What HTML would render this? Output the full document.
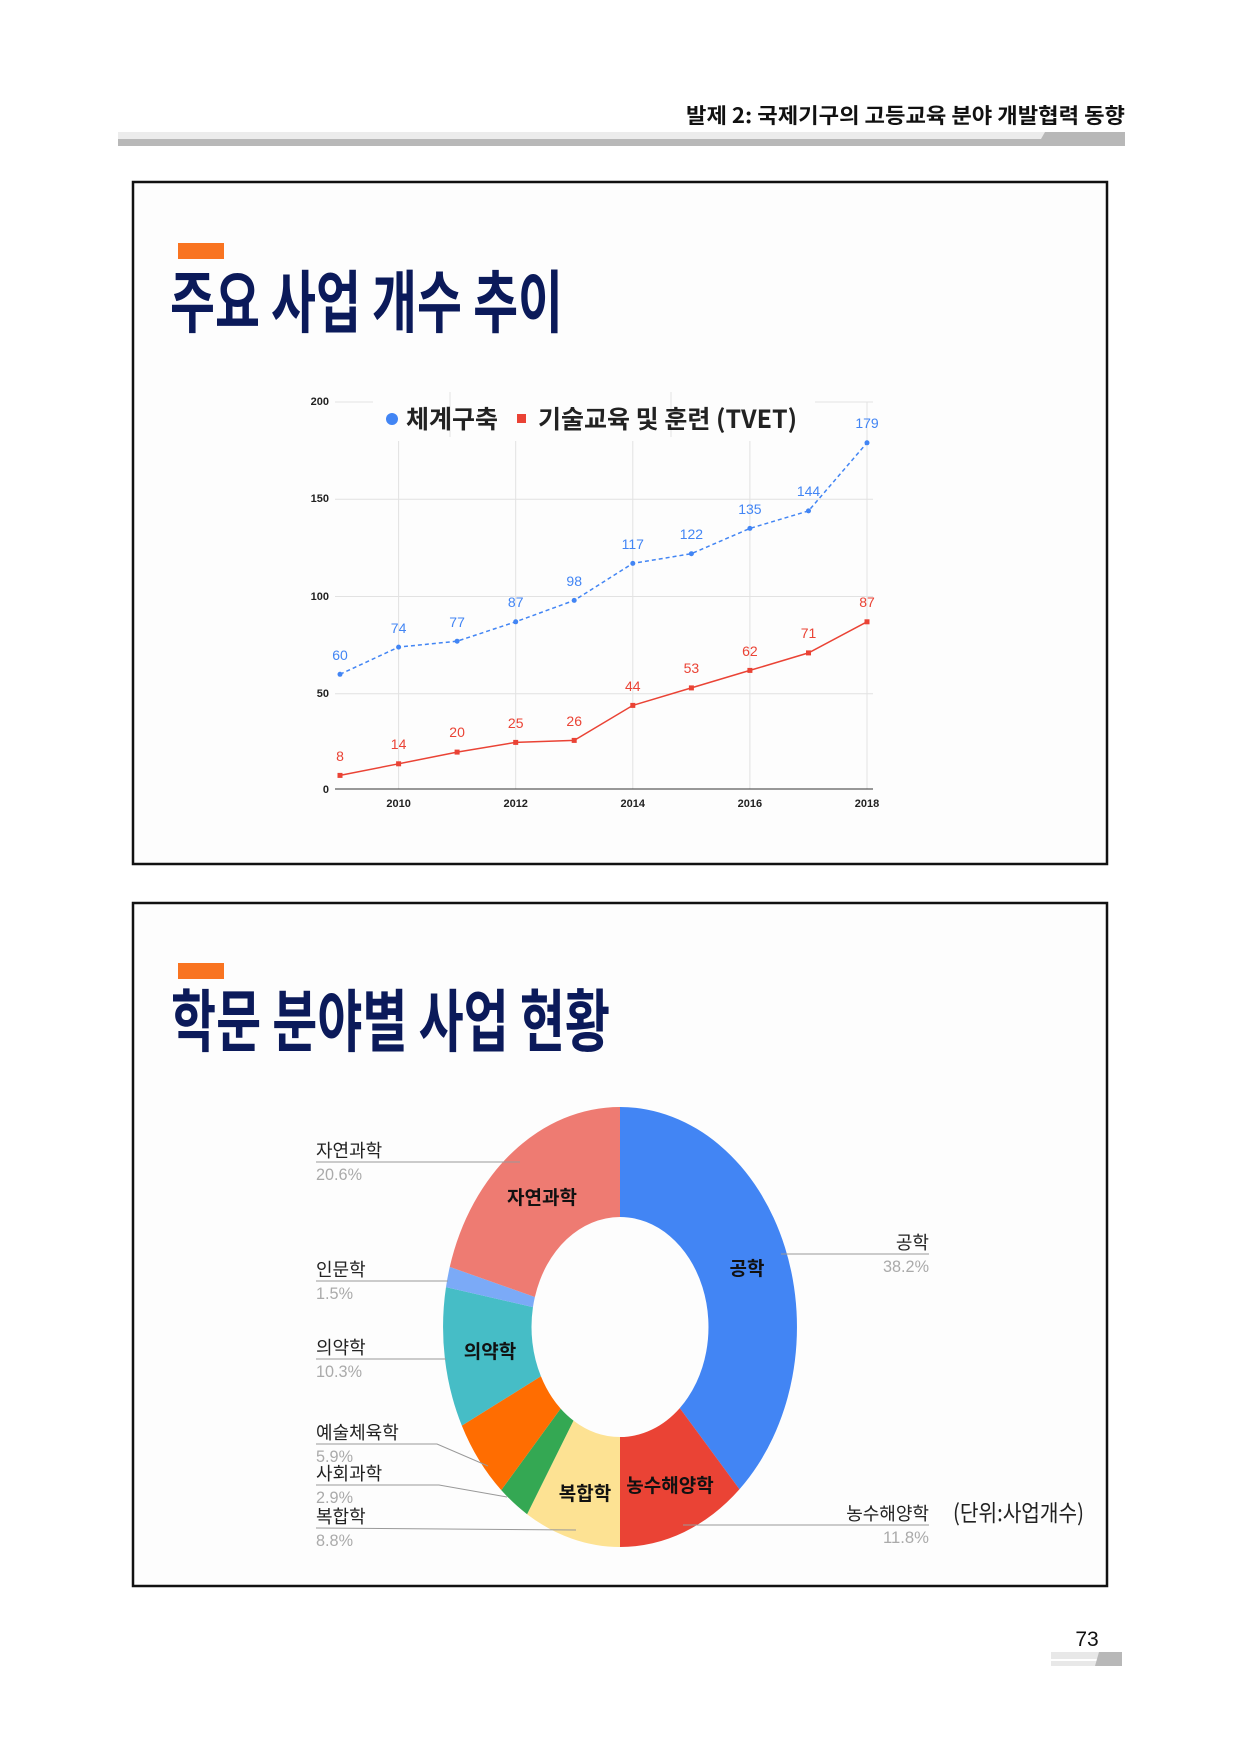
<!DOCTYPE html>
<html><head><meta charset="utf-8"><style>
html,body{margin:0;padding:0;background:#fff;}
svg{display:block;}
text{font-family:"Liberation Sans","Noto Sans CJK KR",sans-serif;}
.k{font-family:"Noto Sans CJK KR","Liberation Sans",sans-serif;}
</style></head><body>
<svg width="1241" height="1755" viewBox="0 0 1241 1755" xmlns="http://www.w3.org/2000/svg">
<rect width="1241" height="1755" fill="#fff"/>
<!-- header -->
<text class="k" x="686" y="123" font-size="21" font-weight="700" fill="#111" textLength="439" lengthAdjust="spacingAndGlyphs">발제 2: 국제기구의 고등교육 분야 개발협력 동향</text>
<rect x="118" y="132" width="1007" height="7" fill="#ececec"/>
<rect x="118" y="139" width="1007" height="7" fill="#b8b8b8"/>
<polygon points="1045,132 1125,132 1125,146 1037,146" fill="#b8b8b8"/>

<!-- box 1 -->
<rect x="133" y="182" width="974" height="682" fill="#fdfdfd" stroke="#111" stroke-width="2.5"/>
<rect x="178" y="243" width="46" height="16" fill="#f97421"/>
<text class="k" x="170" y="327" font-size="68" font-weight="700" fill="#0b1a5a" textLength="393" lengthAdjust="spacingAndGlyphs">주요 사업 개수 추이</text>

<g transform="translate(-2,-3)">
<g stroke="#e2e2e2" stroke-width="1">
<line x1="337" y1="696.8" x2="875" y2="696.8"/>
<line x1="337" y1="599.5" x2="875" y2="599.5"/>
<line x1="337" y1="502.3" x2="875" y2="502.3"/>
<line x1="337" y1="405" x2="375" y2="405"/>
<line x1="817" y1="405" x2="875" y2="405"/>
<line x1="400.6" y1="444" x2="400.6" y2="792"/>
<line x1="517.7" y1="444" x2="517.7" y2="792"/>
<line x1="634.8" y1="444" x2="634.8" y2="792"/>
<line x1="751.9" y1="444" x2="751.9" y2="792"/>
<line x1="869" y1="405" x2="869" y2="792"/>
<line x1="452" y1="395" x2="452" y2="440"/>
<line x1="673" y1="395" x2="673" y2="440"/>
</g>
<line x1="337" y1="792" x2="875" y2="792" stroke="#333" stroke-width="1"/>
<g font-size="11" font-weight="700" fill="#222" text-anchor="end">
<text x="331" y="408">200</text><text x="331" y="505">150</text><text x="331" y="603">100</text><text x="331" y="700">50</text><text x="331" y="796">0</text>
</g>
<g font-size="11" font-weight="700" fill="#222" text-anchor="middle">
<text x="400.6" y="810">2010</text><text x="517.7" y="810">2012</text><text x="634.8" y="810">2014</text><text x="751.9" y="810">2016</text><text x="869" y="810">2018</text>
</g>
<circle cx="394" cy="422" r="6" fill="#4285f4"/>
<text class="k" x="408" y="431" font-size="25" font-weight="700" fill="#222">체계구축</text>
<rect x="519" y="417" width="9" height="9" fill="#ea4335"/>
<text class="k" x="540" y="431" font-size="25" font-weight="700" fill="#222">기술교육 및 훈련 (TVET)</text>

<polyline fill="none" stroke="#4285f4" stroke-width="1.5" stroke-dasharray="4,3" points="342,677.3 400.6,650.1 459.1,644.2 517.7,624.8 576.2,603.4 634.8,566.4 693.4,556.7 751.9,531.4 810.5,513.9 869,445.8"/>
<g fill="#4285f4">
<circle cx="342" cy="677.3" r="2.5"/><circle cx="400.6" cy="650.1" r="2.5"/><circle cx="459.1" cy="644.2" r="2.5"/><circle cx="517.7" cy="624.8" r="2.5"/><circle cx="576.2" cy="603.4" r="2.5"/><circle cx="634.8" cy="566.4" r="2.5"/><circle cx="693.4" cy="556.7" r="2.5"/><circle cx="751.9" cy="531.4" r="2.5"/><circle cx="810.5" cy="513.9" r="2.5"/><circle cx="869" cy="445.8" r="2.5"/>
</g>
<g fill="#4285f4" font-size="14" text-anchor="middle">
<text x="342" y="663">60</text><text x="400.6" y="636">74</text><text x="459.1" y="630">77</text><text x="517.7" y="610">87</text><text x="576.2" y="589">98</text><text x="634.8" y="552">117</text><text x="693.4" y="542">122</text><text x="751.9" y="517">135</text><text x="810.5" y="499">144</text><text x="869" y="431">179</text>
</g>
<polyline fill="none" stroke="#ea4335" stroke-width="1.5" points="342,778.4 400.6,766.8 459.1,755.1 517.7,745.4 576.2,743.4 634.8,708.4 693.4,690.9 751.9,673.4 810.5,655.9 869,624.8"/>
<g fill="#ea4335">
<rect x="339.5" y="775.9" width="5" height="5"/><rect x="398.1" y="764.3" width="5" height="5"/><rect x="456.6" y="752.6" width="5" height="5"/><rect x="515.2" y="742.9" width="5" height="5"/><rect x="573.7" y="740.9" width="5" height="5"/><rect x="632.3" y="705.9" width="5" height="5"/><rect x="690.9" y="688.4" width="5" height="5"/><rect x="749.4" y="670.9" width="5" height="5"/><rect x="808" y="653.4" width="5" height="5"/><rect x="866.5" y="622.3" width="5" height="5"/>
</g>
<g fill="#ea4335" font-size="14" text-anchor="middle">
<text x="342" y="764">8</text><text x="400.6" y="752">14</text><text x="459.1" y="740">20</text><text x="517.7" y="731">25</text><text x="576.2" y="729">26</text><text x="634.8" y="694">44</text><text x="693.4" y="676">53</text><text x="751.9" y="659">62</text><text x="810.5" y="641">71</text><text x="869" y="610">87</text>
</g>
</g>

<!-- box 2 -->
<rect x="133" y="903" width="974" height="683" fill="#fdfdfd" stroke="#111" stroke-width="2.5"/>
<rect x="178" y="963" width="46" height="16" fill="#f97421"/>
<text class="k" x="171" y="1046" font-size="68" font-weight="700" fill="#0b1a5a" textLength="439" lengthAdjust="spacingAndGlyphs">학문 분야별 사업 현황</text>
<g transform="translate(620,1327) scale(0.8045,1)">
<path d="M0,-220 A220,220 0 0 1 148.5,162.3 L74.3,81.1 A110,110 0 0 0 0,-110 Z" fill="#4285f4"/>
<path d="M148.5,162.3 A220,220 0 0 1 0,220 L0,110 A110,110 0 0 0 74.3,81.1 Z" fill="#ea4335"/>
<path d="M0,220 A220,220 0 0 1 -115.5,187.2 L-57.8,93.6 A110,110 0 0 0 0,110 Z" fill="#fde293"/>
<path d="M-115.5,187.2 A220,220 0 0 1 -147.6,163.1 L-73.8,81.6 A110,110 0 0 0 -57.8,93.6 Z" fill="#34a853"/>
<path d="M-147.6,163.1 A220,220 0 0 1 -196.6,98.6 L-98.3,49.3 A110,110 0 0 0 -73.8,81.6 Z" fill="#ff6d01"/>
<path d="M-196.6,98.6 A220,220 0 0 1 -216.3,-39.9 L-108.2,-19.9 A110,110 0 0 0 -98.3,49.3 Z" fill="#46bdc6"/>
<path d="M-216.3,-39.9 A220,220 0 0 1 -211.6,-60.1 L-105.8,-30 A110,110 0 0 0 -108.2,-19.9 Z" fill="#7baaf7"/>
<path d="M-211.6,-60.1 A220,220 0 0 1 0,-220 L0,-110 A110,110 0 0 0 -105.8,-30 Z" fill="#ee7b72"/>
</g>
<g class="k" font-size="19" font-weight="700" fill="#111" text-anchor="middle">
<text x="542" y="1204">자연과학</text>
<text x="747" y="1275">공학</text>
<text x="490" y="1358">의약학</text>
<text x="585" y="1500">복합학</text>
<text x="670" y="1492">농수해양학</text>
</g>
<g stroke="#999" stroke-width="1" fill="none">
<polyline points="316,1162 520,1162"/>
<polyline points="316,1281 448,1281"/>
<polyline points="316,1359 446,1359"/>
<polyline points="316,1444 437,1444 488,1466"/>
<polyline points="316,1485 439,1485 507,1497"/>
<polyline points="316,1528 576,1530"/>
<polyline points="929,1254 781,1254"/>
<polyline points="929,1525 683,1525"/>
</g>
<g class="k" font-size="18" fill="#222">
<text x="316" y="1157">자연과학</text>
<text x="316" y="1276">인문학</text>
<text x="316" y="1354">의약학</text>
<text x="316" y="1439">예술체육학</text>
<text x="316" y="1480">사회과학</text>
<text x="316" y="1523">복합학</text>
</g>
<g font-size="17" fill="#aaa">
<text x="316" y="1180" textLength="46" lengthAdjust="spacingAndGlyphs">20.6%</text>
<text x="316" y="1299" textLength="37" lengthAdjust="spacingAndGlyphs">1.5%</text>
<text x="316" y="1377" textLength="46" lengthAdjust="spacingAndGlyphs">10.3%</text>
<text x="316" y="1462" textLength="37" lengthAdjust="spacingAndGlyphs">5.9%</text>
<text x="316" y="1503" textLength="37" lengthAdjust="spacingAndGlyphs">2.9%</text>
<text x="316" y="1546" textLength="37" lengthAdjust="spacingAndGlyphs">8.8%</text>
</g>
<g class="k" font-size="18" fill="#222" text-anchor="end">
<text x="929" y="1249">공학</text>
<text x="929" y="1520">농수해양학</text>
</g>
<g font-size="17" fill="#aaa">
<text x="883" y="1272" textLength="46" lengthAdjust="spacingAndGlyphs">38.2%</text>
<text x="883" y="1543" textLength="46" lengthAdjust="spacingAndGlyphs">11.8%</text>
</g>
<text class="k" x="953" y="1521" font-size="23" fill="#222" textLength="131" lengthAdjust="spacingAndGlyphs">(단위:사업개수)</text>

<!-- footer -->
<text x="1087" y="1646" font-size="21" fill="#111" text-anchor="middle">73</text>
<rect x="1051" y="1652" width="71" height="14" fill="#e8e8e8"/>
<rect x="1051" y="1659" width="46" height="2" fill="#fff"/>
<polygon points="1099,1652 1122,1652 1122,1666 1095,1666" fill="#b8b8b8"/>
</svg>
</body></html>
